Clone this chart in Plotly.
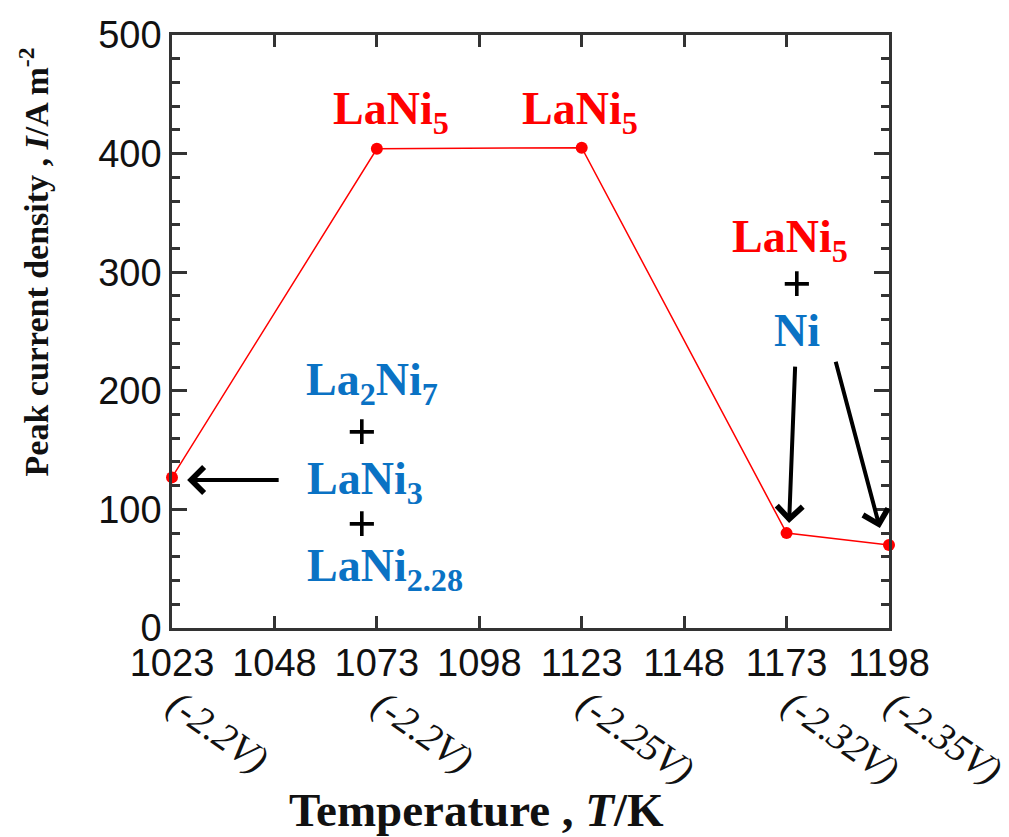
import plotly.graph_objects as go

# Synthesis temperature (K) and peak current density (A m^-2)
temperature = [1023, 1073, 1123, 1173, 1198]
current_density = [127, 404, 405, 80, 70]

x_ticks = [1023, 1048, 1073, 1098, 1123, 1148, 1173, 1198]
y_ticks = [0, 100, 200, 300, 400, 500]

# Applied potential for each sample
potential_labels = ["(-2.2V)", "(-2.2V)", "(-2.25V)", "(-2.32V)", "(-2.35V)"]

RED = "#ff0000"
BLUE = "#0a72c4"
SERIF = "Liberation Serif"
SANS = "Liberation Sans"

fig = go.Figure()
fig.add_trace(go.Scatter(
    x=temperature, y=current_density, mode="lines+markers",
    line=dict(color=RED, width=1.5),
    marker=dict(color=RED, size=12),
    cliponaxis=False, showlegend=False,
))

ann = []

def label(x, y, text, color, size=46):
    ann.append(dict(x=x, y=y, xref="x", yref="y", text=text, showarrow=False,
                    font=dict(family=SERIF, size=size, color=color),
                    xanchor="center", yanchor="middle"))

# Phase labels
label(1076.4, 434.7, "<b>LaNi<sub>5</sub></b>", RED)
label(1122.6, 434.7, "<b>LaNi<sub>5</sub></b>", RED)
label(1173.9, 326.9, "<b>LaNi<sub>5</sub></b>", RED)
label(1175.6, 290.6, "<b>+</b>", "black", 52)
label(1175.6, 251.0, "<b>Ni</b>", BLUE)
label(1071.8, 206.4, "<b>La<sub>2</sub>Ni<sub>7</sub></b>", BLUE)
label(1069.4, 166.0, "<b>+</b>", "black", 52)
label(1070.1, 123.0, "<b>LaNi<sub>3</sub></b>", BLUE)
label(1069.4, 88.0, "<b>+</b>", "black", 52)
label(1075.0, 50.0, "<b>LaNi<sub>2.28</sub></b>", BLUE)

# Arrows pointing to the data points
def arrow(x_tip, y_tip, x_tail, y_tail):
    ann.append(dict(x=x_tip, y=y_tip, ax=x_tail, ay=y_tail, xref="x", yref="y",
                    axref="x", ayref="y", text="", showarrow=True,
                    arrowhead=4, arrowsize=1.25, arrowwidth=4, arrowcolor="black",
                    standoff=2, startstandoff=0))

arrow(1026.2, 124.7, 1049.4, 124.7)
arrow(1173.6, 86.8, 1175.1, 221.6)
arrow(1195.9, 82.6, 1184.9, 225.8)

# Potential labels under the temperature ticks
for t, p in zip(temperature, potential_labels):
    ann.append(dict(x=t, y=0, xref="x", yref="y", text=f"<i>{p}</i>",
                    showarrow=False, textangle=35,
                    font=dict(family=SERIF, size=39, color="#111"),
                    xanchor="left", yanchor="top",
                    xshift=-15, yshift=-51))

# Axis titles
ann.append(dict(x=-0.192, y=0.617, xref="paper", yref="paper",
                text="<b>Peak current density , <i>I</i>/A m<sup>-2</sup></b>",
                showarrow=False, textangle=-90,
                font=dict(family=SERIF, size=34, color="#111"),
                xanchor="center", yanchor="middle"))
ann.append(dict(x=0.425, y=-0.307, xref="paper", yref="paper",
                text="<b>Temperature , <i>T</i>/K</b>",
                showarrow=False,
                font=dict(family=SERIF, size=47, color="#111"),
                xanchor="center", yanchor="middle"))

axis_common = dict(showline=True, linecolor="#333", linewidth=2.5, mirror="ticks",
                   ticks="inside", tickcolor="#333", tickwidth=2.5,
                   showgrid=False, zeroline=False,
                   tickfont=dict(family=SANS, size=38, color="#111"))

fig.update_xaxes(range=[1023, 1198], tickvals=x_ticks,
                 ticktext=[str(v) for v in x_ticks], ticklen=12, **axis_common)
fig.update_yaxes(range=[0, 500], tickvals=y_ticks, ticklen=15,
                 minor=dict(dtick=20, ticks="inside", ticklen=8,
                            tickcolor="#333", tickwidth=2.5),
                 **axis_common)

fig.update_layout(
    width=1009, height=837,
    margin=dict(l=172, r=120, t=35, b=209),
    paper_bgcolor="white", plot_bgcolor="white",
    annotations=ann,
)

fig.write_html("out.html")
